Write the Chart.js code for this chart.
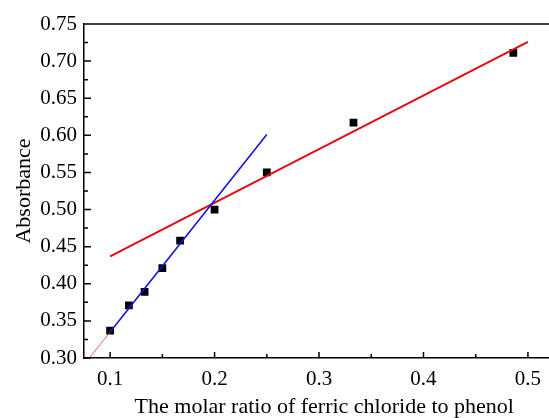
<!DOCTYPE html>
<html>
<head>
<meta charset="utf-8">
<script src="https://cdn.jsdelivr.net/npm/chart.js@4.4.1/dist/chart.umd.min.js"></script>
<style>
    html, body { margin: 0; padding: 0; background: #fff; overflow: hidden; width: 549px; height: 418px; }
    #grafico { display: block; }
</style>
</head>
<body>
<canvas id="grafico" width="570" height="418"></canvas>
<script>
// measured points
const ratio = [0.1, 0.118, 0.133, 0.15, 0.167, 0.2, 0.25, 0.333, 0.486];
const absorbance = [0.337, 0.371, 0.389, 0.421, 0.458, 0.500, 0.550, 0.617, 0.711];

// fitted lines (end points)
const fitLowX = [0.1, 0.25];
const fitLowY = [0.335, 0.601];
const fitHighX = [0.1, 0.5];
const fitHighY = [0.437, 0.726];
const extLowX = [0.08, 0.1];
const extLowY = [0.30, 0.335];

// axes
const xMajor = [0.1, 0.2, 0.3, 0.4, 0.5];
const xMinor = [0.15, 0.25, 0.35, 0.45];
const yMajor = [0.30, 0.35, 0.40, 0.45, 0.50, 0.55, 0.60, 0.65, 0.70, 0.75];
const yMinor = [0.325, 0.375, 0.425, 0.475, 0.525, 0.575, 0.625, 0.675, 0.725];

const fonte = '"Liberation Serif", "Times New Roman", serif';

function pares(xs, ys) {
    return xs.map((x, i) => ({x: x, y: ys[i]}));
}

// ticks pointing inward + top frame line
const ticksInternos = {
    id: 'ticksInternos',
    afterDraw(chart) {
        const ctx = chart.ctx;
        const area = chart.chartArea;
        const sx = chart.scales.x;
        const sy = chart.scales.y;
        ctx.save();
        ctx.strokeStyle = '#000';
        ctx.lineWidth = 1.5;
        ctx.beginPath();
        ctx.moveTo(area.left, area.top);
        ctx.lineTo(area.right, area.top);

        xMajor.forEach(v => {
            let p = sx.getPixelForValue(v);
            ctx.moveTo(p, area.bottom);
            ctx.lineTo(p, area.bottom - 6);
        });
        xMinor.forEach(v => {
            let p = sx.getPixelForValue(v);
            ctx.moveTo(p, area.bottom);
            ctx.lineTo(p, area.bottom - 4);
        });
        yMajor.forEach(v => {
            let p = sy.getPixelForValue(v);
            ctx.moveTo(area.left, p);
            ctx.lineTo(area.left + 7, p);
        });
        yMinor.forEach(v => {
            let p = sy.getPixelForValue(v);
            ctx.moveTo(area.left, p);
            ctx.lineTo(area.left + 4, p);
        });
        ctx.stroke();
        ctx.restore();
    }
};

new Chart(document.getElementById('grafico'), {
    type: 'scatter',
    data: {
        datasets: [
            {
                label: 'extensao',
                data: pares(extLowX, extLowY),
                showLine: true,
                borderColor: 'rgb(225, 60, 60)',
                borderWidth: 0.8,
                pointRadius: 0
            },
            {
                label: 'ajuste 1',
                data: pares(fitLowX, fitLowY),
                showLine: true,
                borderColor: 'rgb(20, 20, 215)',
                borderWidth: 1.6,
                pointRadius: 0
            },
            {
                label: 'ajuste 2',
                data: pares(fitHighX, fitHighY),
                showLine: true,
                borderColor: 'rgb(228, 10, 20)',
                borderWidth: 2,
                pointRadius: 0
            },
            {
                label: 'Absorbance',
                data: pares(ratio, absorbance),
                pointStyle: 'rect',
                pointRadius: 5.5,
                backgroundColor: '#000',
                borderColor: '#000',
                borderWidth: 0
            }
        ]
    },
    options: {
        responsive: false,
        animation: false,
        layout: {padding: {top: 24, right: 0, left: 0, bottom: 0}},
        plugins: {
            legend: {display: false},
            tooltip: {enabled: false}
        },
        scales: {
            x: {
                type: 'linear',
                min: 0.075,
                max: 0.535,
                afterBuildTicks: (scale) => {
                    scale.ticks = xMajor.map(v => ({value: v}));
                },
                afterFit: (scale) => {
                    scale.height = 60;
                    scale.paddingLeft = 0;
                    scale.paddingRight = 0;
                },
                grid: {display: false, drawTicks: false},
                border: {display: true, color: '#000', width: 1.5},
                ticks: {
                    color: '#000',
                    padding: 9,
                    font: {family: fonte, size: 21},
                    maxRotation: 0,
                    callback: (v) => String(Math.round(v * 10) / 10)
                },
                title: {
                    display: true,
                    text: 'The molar ratio of ferric chloride to phenol',
                    color: '#000',
                    font: {family: fonte, size: 22, lineHeight: 1},
                    padding: {top: 13, bottom: 0}
                }
            },
            y: {
                type: 'linear',
                min: 0.30,
                max: 0.75,
                afterBuildTicks: (scale) => {
                    scale.ticks = yMajor.map(v => ({value: v}));
                },
                afterFit: (scale) => {
                    scale.width = 84;
                    scale.paddingTop = 0;
                    scale.paddingBottom = 0;
                },
                grid: {display: false, drawTicks: false},
                border: {display: true, color: '#000', width: 1.5},
                ticks: {
                    color: '#000',
                    padding: 7,
                    font: {family: fonte, size: 21},
                    callback: (v) => v.toFixed(2)
                },
                title: {
                    display: true,
                    text: 'Absorbance',
                    color: '#000',
                    font: {family: fonte, size: 22, lineHeight: 1},
                    padding: {top: 13, bottom: 0}
                }
            }
        }
    },
    plugins: [ticksInternos]
});
</script>
</body>
</html>
